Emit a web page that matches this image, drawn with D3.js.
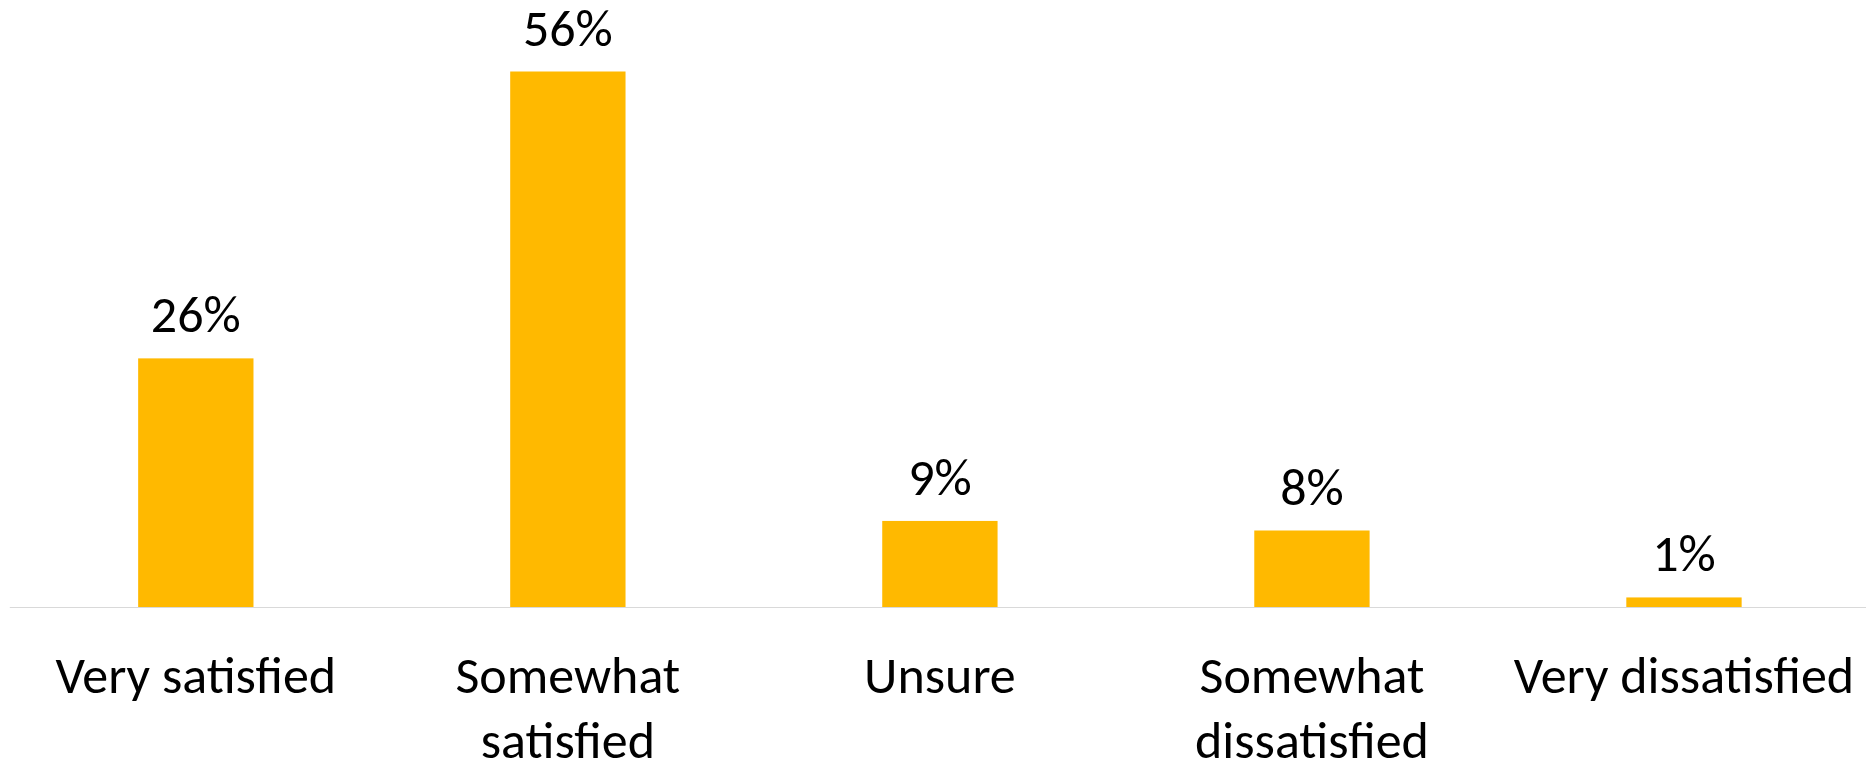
<!DOCTYPE html>
<html>
<head>
<meta charset="utf-8">
<script src="https://cdn.jsdelivr.net/npm/d3@7"></script>
<style>
  html, body { margin: 0; padding: 0; background: #fff; }
  svg { display: block; }
  text { font-family: Carlito, Calibri, Lato, sans-serif; fill: #000; }
</style>
</head>
<body>
<svg id="chart" width="1866" height="762"></svg>
<script>
const categories = ["Very satisfied", "Somewhat satisfied", "Unsure", "Somewhat dissatisfied", "Very dissatisfied"];
const values = [0.26, 0.56, 0.09, 0.08, 0.01];
const valueLabels = ["26%", "56%", "9%", "8%", "1%"];

const svg = d3.select("#chart");

const x = d3.scaleBand()
  .domain(categories)
  .range([9.8, 1870])
  .paddingInner(0.69)
  .paddingOuter(0.345);

const y = d3.scaleLinear()
  .domain([0, 0.56])
  .range([607, 71.5]);

// axis line
svg.append("line")
  .attr("x1", x.range()[0]).attr("x2", x.range()[1])
  .attr("y1", y(0) + 0.5).attr("y2", y(0) + 0.5)
  .attr("stroke", "#D9D9D9").attr("stroke-width", 1.2);

// bars
svg.selectAll("rect.bar")
  .data(categories)
  .join("rect")
  .attr("class", "bar")
  .attr("x", d => x(d))
  .attr("width", x.bandwidth())
  .attr("y", (d, i) => y(values[i]))
  .attr("height", (d, i) => y(0) - y(values[i]))
  .attr("fill", "#FFB900");

const fs = 52;

// value labels
svg.selectAll("text.val")
  .data(categories)
  .join("text")
  .attr("class", "val")
  .attr("x", d => x(d) + x.bandwidth() / 2)
  .attr("y", (d, i) => y(values[i]) - 26)
  .attr("text-anchor", "middle")
  .style("font-size", fs + "px")
  .text((d, i) => valueLabels[i]);

// category labels with wrapping
const lineH = 65;
const catG = svg.selectAll("text.cat")
  .data(categories)
  .join("text")
  .attr("class", "cat")
  .attr("text-anchor", "middle")
  .style("font-size", fs + "px")
  .attr("x", d => x(d) + x.bandwidth() / 2)
  .attr("y", 693);

catG.each(function(d) {
  const t = d3.select(this);
  const cx = x(d) + x.bandwidth() / 2;
  const words = d.split(" ");
  let lines = [];
  let line = [];
  const probe = t.append("tspan");
  for (const w of words) {
    const test = line.concat([w]).join(" ");
    probe.text(test);
    if (probe.node().getComputedTextLength() > x.step() && line.length) {
      lines.push(line.join(" "));
      line = [w];
    } else {
      line.push(w);
    }
  }
  lines.push(line.join(" "));
  probe.remove();
  lines.forEach((l, i) => {
    t.append("tspan").attr("x", cx).attr("dy", i === 0 ? 0 : lineH).text(l);
  });
});
</script>
</body>
</html>
